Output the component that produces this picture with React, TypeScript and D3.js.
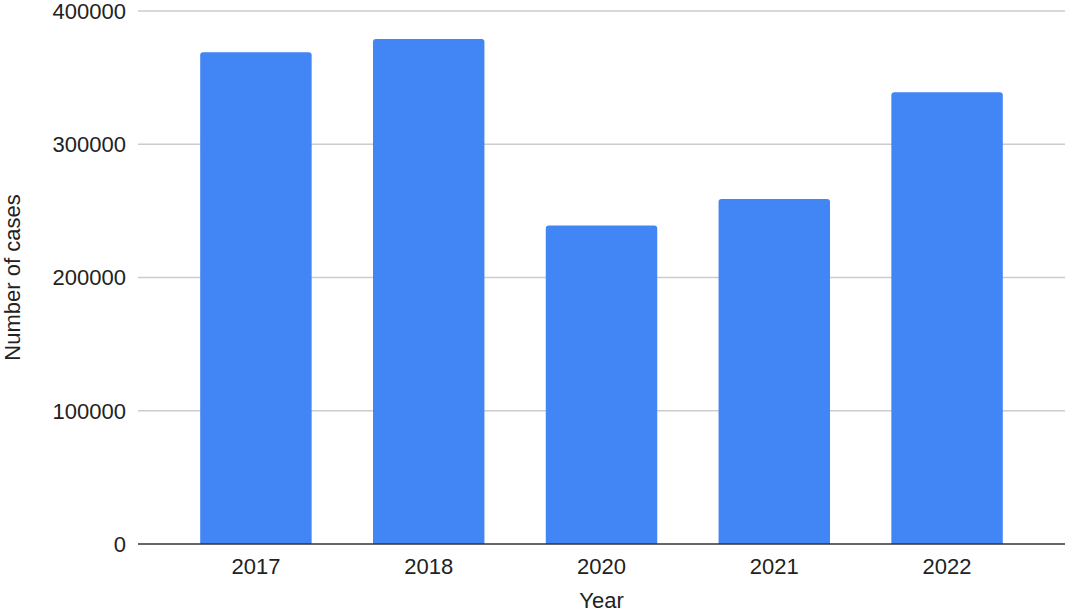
import React from "react";
import * as d3 from "d3";

const years = ["2017", "2018", "2020", "2021", "2022"];
const cases = [369000, 379000, 239000, 259000, 339000];
const yTicks = [0, 100000, 200000, 300000, 400000];

const W = 1067;
const H = 614;
const M = { left: 138, right: 2, top: 11, bottom: 70 };

export default function App() {
  const x = d3
    .scaleBand<string>()
    .domain(years)
    .range([M.left, W - M.right])
    .paddingInner(0.355)
    .paddingOuter(0.36);
  const y = d3.scaleLinear().domain([0, 400000]).range([H - M.bottom, M.top]);
  const font = "Arial, 'Liberation Sans', sans-serif";
  const r = 3;
  return (
    <svg
      width={W}
      height={H}
      style={{ position: "absolute", left: 0, top: 0, background: "#fff" }}
      fontFamily={font}
    >
      {yTicks.map((t) => (
        <g key={t}>
          {t !== 0 && (
            <line x1={M.left} x2={W - M.right} y1={y(t)} y2={y(t)} stroke="#cccccc" strokeWidth={1.3} />
          )}
          <text x={126} y={y(t)} dy="0.36em" textAnchor="end" fontSize={22} fill="#222">
            {t}
          </text>
        </g>
      ))}
      {years.map((yr, i) => {
        const x0 = x(yr)!;
        const w = x.bandwidth();
        const top = y(cases[i]);
        const bot = y(0);
        const d = `M${x0},${bot} V${top + r} Q${x0},${top} ${x0 + r},${top} H${x0 + w - r} Q${x0 + w},${top} ${x0 + w},${top + r} V${bot} Z`;
        return <path key={yr} d={d} fill="#4285f4" />;
      })}
      <line x1={M.left} x2={W - M.right} y1={y(0)} y2={y(0)} stroke="#333" strokeWidth={1.6} />
      {years.map((yr) => (
        <text key={yr} x={x(yr)! + x.bandwidth() / 2} y={y(0) + 30} textAnchor="middle" fontSize={22} fill="#222">
          {yr}
        </text>
      ))}
      <text x={(M.left + W - M.right) / 2} y={608} textAnchor="middle" fontSize={22} fill="#222">
        Year
      </text>
      <text
        transform={`translate(20,${(y(0) + y(400000)) / 2}) rotate(-90)`}
        textAnchor="middle"
        fontSize={22}
        fill="#222"
      >
        Number of cases
      </text>
    </svg>
  );
}
